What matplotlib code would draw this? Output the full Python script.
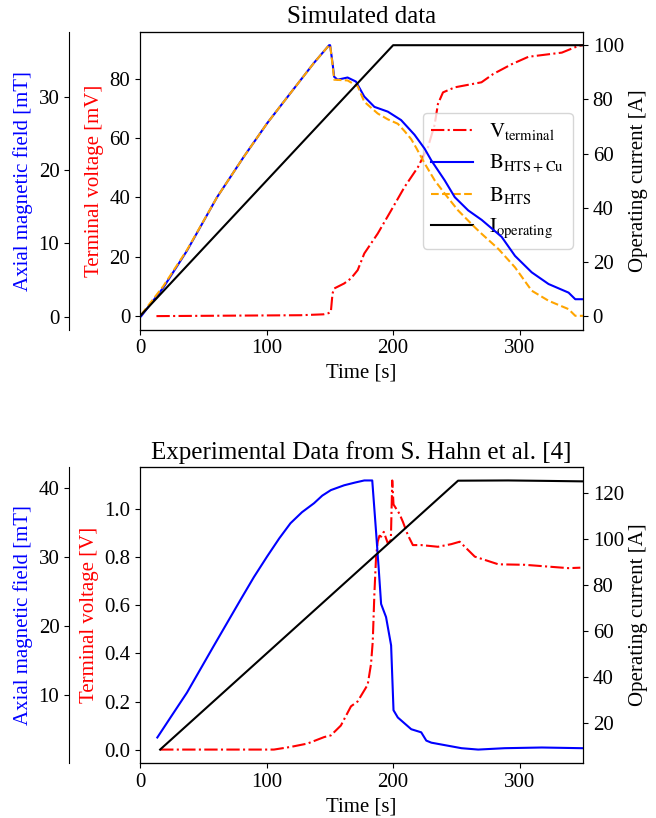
import matplotlib
matplotlib.use("Agg")
import matplotlib.pyplot as plt
from matplotlib.ticker import MultipleLocator

plt.rcParams['font.family'] = 'serif'
plt.rcParams['font.serif'] = ['Liberation Serif', 'DejaVu Serif']
plt.rcParams['mathtext.fontset'] = 'stix'
plt.rcParams['font.size'] = 15

# --- simulated data (top) ---
t_sim_v = [13, 127, 145, 149, 150.8, 152.1, 153.4, 161.3, 166.7, 172, 177.2, 187.8, 198.4,
           209, 219.6, 227.5, 232.8, 235.4, 239.4, 248.7, 269.8, 279.1, 293.7, 306.9,
           333.3, 346.6, 350]
v_sim = [0, 0.3, 0.6, 1.0, 1.45, 7.6, 9.3, 11.0, 12.7, 15.5, 21.1, 27.8, 35.6,
         43.5, 50.2, 56.9, 64.5, 71.5, 75.4, 77.1, 78.8, 81.6, 84.9, 87.4,
         88.8, 91.1, 91.3]

t_sim_cu = [1, 18.5, 37.1, 60.9, 82.0, 100.6, 119.0, 137.5, 149.4, 150.2, 152.1, 153.4,
            156.1, 164, 170.6, 177.2, 185.2, 195.8, 206.3, 216.9, 224.9, 230.2, 240.7,
            248.7, 259.3, 270, 285.7, 296.3, 309.5, 322.8, 338.6, 343.9, 350]
b_sim_cu = [0.1, 4.0, 9.0, 16.3, 21.8, 26.4, 30.5, 34.6, 37.0, 37.0, 34.6, 32.7,
            32.3, 32.6, 32.05, 30.0, 28.6, 27.95, 26.8, 24.8, 22.9, 21.3, 18.6,
            16.3, 14.5, 13.2, 10.9, 8.3, 6.06, 4.47, 3.3, 2.4, 2.4]

t_sim_hts = [1, 18.5, 37.1, 60.9, 82.0, 100.6, 119.0, 137.5, 149.4, 150.2, 152.1, 153.4,
             164, 172, 177.2, 187.8, 195.8, 203.7, 209, 214.3, 218.3, 224.9, 232.8,
             240.7, 251.3, 264.5, 270, 283.1, 296.3, 309.5, 322.8, 338.6, 343.9, 350]
b_sim_hts = [0.3, 4.2, 9.1, 16.3, 21.8, 26.4, 30.5, 34.6, 37.0, 37.0, 34.4, 32.3,
             32.2, 31.4, 29.3, 27.7, 26.9, 26.3, 25.3, 24.2, 23.0, 20.9, 18.6,
             16.8, 14.5, 12.2, 11.3, 9.26, 6.74, 3.56, 2.19, 1.05, 0.14, 0.14]

t_sim_i = [0, 200, 350]
i_sim = [0, 100, 100]

# --- experimental data (bottom) ---
t_exp_v = [15.9, 105.8, 119, 132.3, 145.5, 150.8, 158.7, 166.7, 171.9, 179.9, 182.5,
           183.9, 185.2, 186.5, 187.8, 189.2, 190.5, 192.6, 195.8, 198.2, 199.3, 200.3,
           204.9, 207.7, 211.6, 215.6, 222.2, 235.4, 246, 252.6, 264.5, 283.1, 304,
           338.6, 347.9]
v_exp = [0, 0, 0.011, 0.025, 0.052, 0.059, 0.10, 0.18, 0.20, 0.27, 0.355,
         0.45, 0.65, 0.80, 0.865, 0.89, 0.886, 0.906, 0.858, 0.872, 1.12, 1.02,
         0.982, 0.948, 0.893, 0.851, 0.851, 0.844, 0.855, 0.865, 0.803, 0.771, 0.769,
         0.755, 0.757]

t_exp_b = [13.7, 25, 37.1, 58.2, 79.4, 90, 100.5, 110, 118.9, 128, 137.5, 144, 150.8,
           161.3, 170, 177.2, 183.5, 186.5, 188.5, 190.5, 194.4, 198.4, 200.3, 203.7,
           214.3, 222.2, 226.2, 230.2, 254, 267.2, 288.1, 317.5, 349.2]
b_exp = [3.85, 7.0, 10.35, 17.1, 23.8, 27.1, 30.1, 32.7, 34.9, 36.5, 37.8, 38.9, 39.7,
         40.4, 40.8, 41.1, 41.1, 33.7, 28.6, 23.2, 21.3, 17.2, 7.8, 6.75,
         5.05, 4.6, 3.4, 3.1, 2.3, 2.1, 2.3, 2.4, 2.3]

t_exp_i = [15.9, 251.3, 290.9, 322.8, 350]
i_exp = [8.4, 125.5, 125.6, 125.4, 125.2]


def three_axes(rect):
    ax = fig.add_axes(rect)
    axb = ax.twinx()
    axb.spines['left'].set_position(('axes', -0.16))
    axb.spines['left'].set_visible(True)
    axb.spines['right'].set_visible(False)
    axb.yaxis.set_label_position('left')
    axb.yaxis.set_ticks_position('left')
    axi = ax.twinx()
    ax.xaxis.set_major_locator(MultipleLocator(100))
    return ax, axb, axi


fig = plt.figure(figsize=(6.56, 8.18), dpi=100)

# top panel
ax, axb, axi = three_axes([0.2134, 0.597, 0.6753, 0.3643])
l1, = ax.plot(t_sim_v, v_sim, '-.', color='red', label=r'$\mathrm{V_{terminal}}$')
l2, = axb.plot(t_sim_cu, b_sim_cu, '-', color='blue', label=r'$\mathrm{B_{HTS+Cu}}$')
l3, = axb.plot(t_sim_hts, b_sim_hts, '--', color='orange', label=r'$\mathrm{B_{HTS}}$')
l4, = axi.plot(t_sim_i, i_sim, '-', color='black', label=r'$\mathrm{I_{operating}}$')
ax.set_xlim(0, 350)
ax.set_xlabel('Time [s]')
ax.set_ylabel('Terminal voltage [mV]', color='red')
axb.set_ylabel('Axial magnetic field [mT]', color='blue')
axi.set_ylabel('Operating current [A]')
ax.set_title('Simulated data', fontsize=18)
ax.legend(handles=[l1, l2, l3, l4], loc='center right')

# bottom panel
ax, axb, axi = three_axes([0.2134, 0.0672, 0.6753, 0.3619])
ax.plot(t_exp_v, v_exp, '-.', color='red')
axb.plot(t_exp_b, b_exp, '-', color='blue')
axi.plot(t_exp_i, i_exp, '-', color='black')
ax.set_xlim(0, 350)
ax.set_xlabel('Time [s]')
ax.set_ylabel('Terminal voltage [V]', color='red')
axb.set_ylabel('Axial magnetic field [mT]', color='blue')
axi.set_ylabel('Operating current [A]')
ax.set_title('Experimental Data from S. Hahn et al. [4]', fontsize=18)

fig.savefig('out.png', dpi=100)
